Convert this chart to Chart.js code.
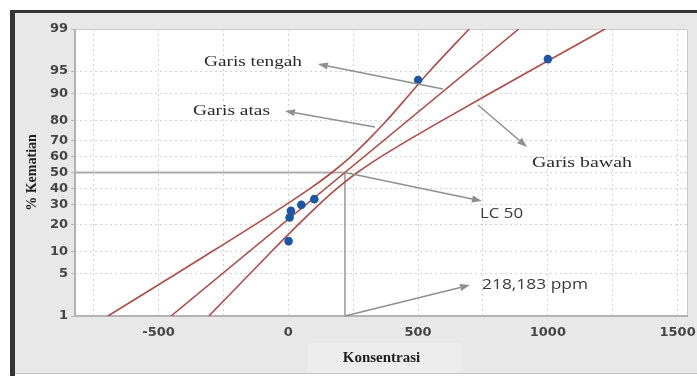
<!DOCTYPE html>
<html>
<head>
<meta charset="utf-8">
<script src="https://cdn.jsdelivr.net/npm/chart.js@4.4.1/dist/chart.umd.min.js"></script>
<style>
  html, body { margin: 0; padding: 0; background: #fff; }
  canvas { display: block; }
</style>
</head>
<body>
<canvas id="c" width="697" height="376"></canvas>
<script>
// Probit plot: mortality (% Kematian) against concentration (Konsentrasi)

// observed points
const concentrations = [1, 5, 10, 50, 100, 500, 1000];
const mortalityPct   = [13.3, 23.3, 26.7, 30, 33.3, 93.3, 96.7];

// fitted probit line (Garis tengah), end points
const fitConc = [-452, 888];
const fitPct  = [1, 99];

// confidence limits, read at each probability level
const limitPct       = [1, 5, 10, 20, 30, 40, 50, 60, 70, 80, 90, 95, 99];
const upperLimitConc = [-695, -433, -294, -127, -10, 86, 168, 240, 307, 379, 470, 545, 697];   // Garis atas
const lowerLimitConc = [-306, -149, -65, 39, 117, 189, 266, 356, 462, 592, 776, 930, 1220];    // Garis bawah

// LC 50
const lc50 = 218.183;

// axes
const xRange      = [-822, 1540];
const xGridVals   = [-750, -500, -250, 0, 250, 500, 750, 1000, 1250, 1500];
const xTickLabels = [-500, 0, 500, 1000, 1500];
const yTickPct    = [1, 5, 10, 20, 30, 40, 50, 60, 70, 80, 90, 95, 99];

// inverse standard normal CDF (Acklam), percent -> probit z
function probit(pct) {
  const p = pct / 100;
  const a = [-3.969683028665376e+01, 2.209460984245205e+02, -2.759285104469687e+02, 1.383577518672690e+02, -3.066479806614716e+01, 2.506628277459239e+00];
  const b = [-5.447609879822406e+01, 1.615858368580409e+02, -1.556989798598866e+02, 6.680131188771972e+01, -1.328068155288572e+01];
  const c = [-7.784894002430293e-03, -3.223964580411365e-01, -2.400758277161838e+00, -2.549671010135196e+00, 4.374664141464968e+00, 2.938163982698783e+00];
  const d = [7.784695709041462e-03, 3.224671290700398e-01, 2.445134137142996e+00, 3.754408661907416e+00];
  const pl = 0.02425;
  let q, r;
  if (p < pl) {
    q = Math.sqrt(-2 * Math.log(p));
    return (((((c[0]*q+c[1])*q+c[2])*q+c[3])*q+c[4])*q+c[5]) / ((((d[0]*q+d[1])*q+d[2])*q+d[3])*q+1);
  }
  if (p <= 1 - pl) {
    q = p - 0.5; r = q * q;
    return (((((a[0]*r+a[1])*r+a[2])*r+a[3])*r+a[4])*r+a[5])*q / (((((b[0]*r+b[1])*r+b[2])*r+b[3])*r+b[4])*r+1);
  }
  q = Math.sqrt(-2 * Math.log(1 - p));
  return -(((((c[0]*q+c[1])*q+c[2])*q+c[3])*q+c[4])*q+c[5]) / ((((d[0]*q+d[1])*q+d[2])*q+d[3])*q+1);
}

const toPoints = (xs, ps) => xs.map((x, i) => ({ x: x, y: probit(ps[i]) }));

const RED = '#b24a45';

// callouts: text boxes and arrows (arrow ends in data units: [concentration, percent])
const callouts = [
  { text: 'Garis tengah', font: '15px "Liberation Serif"', color: '#2b2b2b', left: 204, cy: 62, width: 98,
    from: [596, 91.2], to: [114, 96.07] },
  { text: 'Garis atas', font: '15px "Liberation Serif"', color: '#2b2b2b', left: 193, cy: 111, width: 77,
    from: [334, 76.97], to: [-13, 84.06] },
  { text: 'Garis bawah', font: '15px "Liberation Serif"', color: '#2b2b2b', left: 532, cy: 163, width: 100,
    from: [731, 86.3], to: [920, 66.0] },
  { text: 'LC 50', font: '15px "Open Sans"', color: '#3a3a3a', left: 480, cy: 214, width: 43,
    from: [lc50, 50], to: [746, 32.2] },
  { text: '218,183 ppm', font: '14px "Open Sans"', color: '#3a3a3a', left: 482, cy: 285, width: 106,
    from: [lc50, 1], to: [700, 3.41] }
];

const panelPlugin = {
  id: 'panel',
  beforeDraw(chart) {
    const ctx = chart.ctx;
    const { left, top, right, bottom } = chart.chartArea;
    ctx.save();
    ctx.fillStyle = '#ffffff';
    ctx.fillRect(0, 0, chart.width, chart.height);
    ctx.fillStyle = '#e8e8e8';
    ctx.fillRect(15, 13, chart.width - 15, 361);
    ctx.fillStyle = '#ececec';
    ctx.fillRect(307, 343, 155, 30);
    ctx.fillStyle = '#c2c2c2';
    ctx.fillRect(15, 373, chart.width - 15, 1);
    ctx.fillStyle = '#353535';
    ctx.fillRect(10, 10, chart.width - 10, 3);
    ctx.fillRect(10, 10, 5, chart.height - 10);
    ctx.fillStyle = '#ffffff';
    ctx.fillRect(left, top, right - left, bottom - top);
    ctx.restore();
  },
  beforeDatasetsDraw(chart) {
    const ctx = chart.ctx;
    const { left, top, right, bottom } = chart.chartArea;
    ctx.save();
    ctx.strokeStyle = '#cbcbcb';
    ctx.lineWidth = 1;
    ctx.beginPath();
    ctx.moveTo(left, top + 0.5); ctx.lineTo(right - 0.5, top + 0.5); ctx.lineTo(right - 0.5, bottom);
    ctx.stroke();
    ctx.strokeStyle = '#b3b3b3';
    ctx.lineWidth = 2;
    ctx.beginPath();
    ctx.moveTo(left, top); ctx.lineTo(left, bottom); ctx.lineTo(right, bottom);
    ctx.stroke();
    ctx.restore();
  }
};

function drawStretchedText(ctx, c) {
  ctx.save();
  ctx.font = c.font;
  ctx.fillStyle = c.color;
  ctx.textBaseline = 'middle';
  ctx.textAlign = 'left';
  const w = ctx.measureText(c.text).width;
  ctx.translate(c.left, c.cy);
  ctx.scale(c.width / w, 1);
  ctx.fillText(c.text, 0, 0);
  ctx.restore();
}

function drawArrow(ctx, x1, y1, x2, y2) {
  const ang = Math.atan2(y2 - y1, x2 - x1);
  const len = 10, half = 3.6;
  const bx = x2 - len * Math.cos(ang), by = y2 - len * Math.sin(ang);
  ctx.save();
  ctx.strokeStyle = '#8f8f8f';
  ctx.fillStyle = '#8f8f8f';
  ctx.lineWidth = 1.5;
  ctx.beginPath();
  ctx.moveTo(x1, y1);
  ctx.lineTo(bx, by);
  ctx.stroke();
  ctx.beginPath();
  ctx.moveTo(x2, y2);
  ctx.lineTo(bx + half * Math.sin(ang), by - half * Math.cos(ang));
  ctx.lineTo(bx - half * Math.sin(ang), by + half * Math.cos(ang));
  ctx.closePath();
  ctx.fill();
  ctx.restore();
}

const calloutPlugin = {
  id: 'callouts',
  afterDatasetsDraw(chart) {
    const ctx = chart.ctx;
    const xs = chart.scales.x, ys = chart.scales.y;
    callouts.forEach(c => {
      drawArrow(ctx,
        xs.getPixelForValue(c.from[0]), ys.getPixelForValue(probit(c.from[1])),
        xs.getPixelForValue(c.to[0]), ys.getPixelForValue(probit(c.to[1])));
      drawStretchedText(ctx, c);
    });
  }
};

const tickFont = { family: 'DejaVu Sans', weight: 'bold', size: 13 };

new Chart(document.getElementById('c'), {
  type: 'scatter',
  data: {
    datasets: [
      {
        label: 'Data',
        data: toPoints(concentrations, mortalityPct),
        pointRadius: 4.3,
        pointBackgroundColor: '#1c57a5',
        pointBorderColor: '#1c57a5',
        pointBorderWidth: 0,
        showLine: false,
        order: 0
      },
      {
        label: 'Garis tengah',
        data: toPoints(fitConc, fitPct),
        showLine: true,
        borderColor: RED,
        borderWidth: 1.6,
        pointRadius: 0,
        order: 1
      },
      {
        label: 'Garis atas',
        data: toPoints(upperLimitConc, limitPct),
        showLine: true,
        cubicInterpolationMode: 'monotone',
        borderColor: RED,
        borderWidth: 1.6,
        pointRadius: 0,
        order: 1
      },
      {
        label: 'Garis bawah',
        data: toPoints(lowerLimitConc, limitPct),
        showLine: true,
        cubicInterpolationMode: 'monotone',
        borderColor: RED,
        borderWidth: 1.6,
        pointRadius: 0,
        order: 1
      },
      {
        label: 'LC 50',
        data: [
          { x: xRange[0], y: probit(50) },
          { x: lc50, y: probit(50) },
          { x: lc50, y: probit(1) }
        ],
        showLine: true,
        borderColor: '#ababab',
        borderWidth: 1.8,
        pointRadius: 0,
        order: 2
      }
    ]
  },
  options: {
    responsive: false,
    animation: false,
    devicePixelRatio: 1,
    layout: { padding: { left: 15, top: 29, right: 9, bottom: 0 } },
    plugins: { legend: { display: false }, tooltip: { enabled: false } },
    scales: {
      x: {
        type: 'linear',
        min: xRange[0],
        max: xRange[1],
        afterBuildTicks: s => { s.ticks = xGridVals.map(v => ({ value: v })); },
        afterFit: s => { s.height = 60; s.paddingLeft = 0; s.paddingRight = 0; },
        ticks: {
          autoSkip: false,
          maxRotation: 0,
          padding: 9,
          color: '#454545',
          font: tickFont,
          callback: v => (xTickLabels.includes(v) ? String(v) : '')
        },
        grid: { color: '#d3d3d3', lineWidth: 1, drawTicks: false },
        border: { display: false, dash: [2, 3] },
        title: {
          display: true,
          text: 'Konsentrasi',
          color: '#1e1e1e',
          font: { family: 'Liberation Serif', weight: 'bold', size: 15 },
          padding: { top: 0, bottom: 9 }
        }
      },
      y: {
        type: 'linear',
        min: probit(1),
        max: probit(99),
        afterBuildTicks: s => { s.ticks = yTickPct.map(p => ({ value: probit(p) })); },
        afterFit: s => { s.width = 60; s.paddingTop = 0; s.paddingBottom = 0; },
        ticks: {
          autoSkip: false,
          padding: 3,
          color: '#454545',
          font: tickFont,
          callback: (v, i) => String(yTickPct[i])
        },
        grid: { color: '#d3d3d3', lineWidth: 1, drawTicks: true, tickLength: 4, tickColor: '#b8b8b8', tickBorderDash: [] },
        border: { display: false, dash: [2, 3] },
        title: {
          display: true,
          text: '% Kematian',
          color: '#1e1e1e',
          font: { family: 'Liberation Serif', weight: 'bold', size: 14 },
          padding: { top: 9, bottom: 0 }
        }
      }
    }
  },
  plugins: [panelPlugin, calloutPlugin]
});
</script>
</body>
</html>
